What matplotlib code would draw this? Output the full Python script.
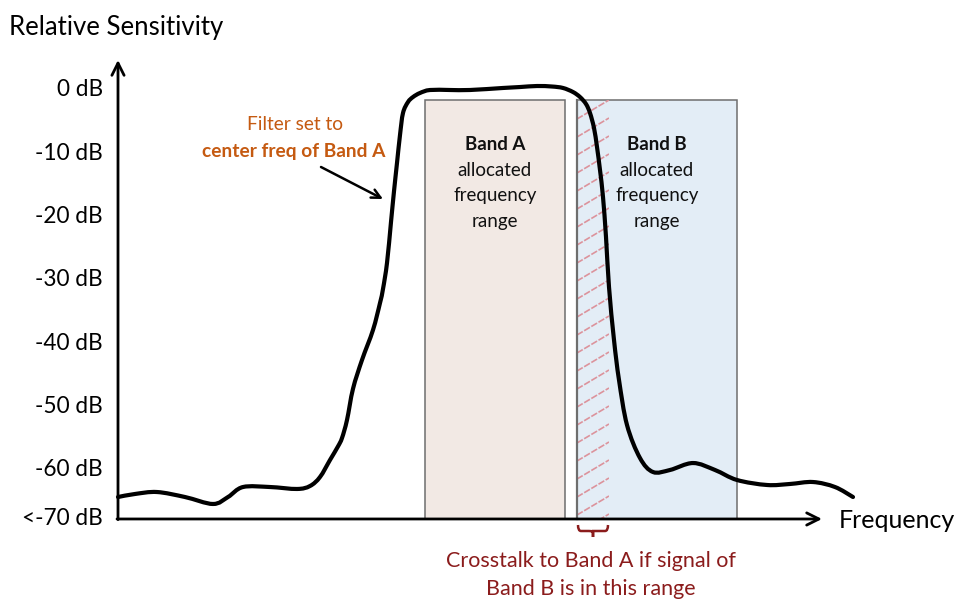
import matplotlib
matplotlib.use("Agg")
import matplotlib.pyplot as plt
import numpy as np
from matplotlib.patches import Rectangle, PathPatch
from matplotlib.path import Path

plt.rcParams['font.family'] = ['Lato', 'DejaVu Sans']

# ---------------- data ----------------
freq = [118, 135, 157, 185, 213, 228, 243, 270, 297, 310, 320, 330, 338, 342, 347,
        353, 362, 373, 380, 383, 387, 391, 394, 397, 400, 403, 408, 413, 420, 430,
        450, 470, 503, 520, 537, 552, 563, 573, 580, 586, 590, 594, 597, 600, 603,
        606, 609, 614, 619, 627, 640, 653, 670, 693, 715, 737, 767, 790, 813, 835, 853]
sens_db = [-64.30, -63.82, -63.51, -64.30, -65.40, -64.30, -62.72, -62.72, -63.03, -62.56,
           -61.14, -58.45, -56.30, -54.98, -52.13, -47.20, -42.65, -37.91, -33.65, -31.43,
           -27.33, -20.85, -16.00, -11.53, -7.11, -3.63, -1.90, -1.11, -0.47, 0.00,
           0.00, 0.00, 0.32, 0.47, 0.63, 0.55, 0.32, -0.32, -1.11, -2.21, -3.63, -6.00,
           -9.00, -12.64, -16.90, -23.22, -31.12, -39.49, -45.81, -52.92, -58.14, -60.35,
           -60.03, -58.93, -60.03, -61.61, -62.40, -62.24, -61.93, -62.72, -64.30]

ytick_vals = [0, -10, -20, -30, -40, -50, -60, -67.77]
ytick_labels = ["0 dB", "-10 dB", "-20 dB", "-30 dB", "-40 dB", "-50 dB", "-60 dB", "<-70 dB"]

band_names = ["Band A", "Band B"]
band_start = [425, 577]
band_end = [565, 737]
band_top_db = -1.58
crosstalk_range = [577, 609]
axis_floor_db = -67.77

# ---------------- figure ----------------
W, H = 961, 601
fig = plt.figure(figsize=(W / 100, H / 100), dpi=100)
ax = fig.add_axes([0, 0, 1, 1])
ax.set_xlim(0, W)
# pixel y -> dB mapping: y_px = 90 - 6.33*dB
ax.set_ylim((90 - H) / 6.33, 90 / 6.33)
ax.axis('off')

def py(ypx):
    return (90 - ypx) / 6.33

band_colors = ['#F2E9E4', '#E3EDF6']
for name, x0, x1, c in zip(band_names, band_start, band_end, band_colors):
    ax.add_patch(Rectangle((x0, axis_floor_db), x1 - x0, band_top_db - axis_floor_db,
                           facecolor=c, edgecolor='#6E6E6E', lw=1.1, zorder=1))

# crosstalk hatch (shallow diagonal lines)
hx0, hx1 = crosstalk_range
clip = Rectangle((hx0, axis_floor_db), hx1 - hx0, band_top_db - axis_floor_db,
                 facecolor='none', edgecolor='none')
ax.add_patch(clip)
for y0 in np.arange(100, 560, 18):
    ln, = ax.plot([hx0, hx1], [py(y0 + 19), py(y0)], color='#DC939C', lw=1.2,
                  dashes=(4, 1), zorder=2)
    ln.set_clip_path(clip)
ax.plot([hx0, hx0], [axis_floor_db, band_top_db], color='#6E6E6E', lw=1.6, zorder=2)

# band labels
for name, x0, x1 in zip(band_names, band_start, band_end):
    xc = (x0 + x1) / 2
    ax.text(xc, py(145), name, ha='center', va='center', fontsize=13.5, fontweight='bold', color='#111111', zorder=3)
    ax.text(xc, py(170), "allocated", ha='center', va='center', fontsize=13.5, color='#111111', zorder=3)
    ax.text(xc, py(196), "frequency", ha='center', va='center', fontsize=13.5, color='#111111', zorder=3)
    ax.text(xc, py(221), "range", ha='center', va='center', fontsize=13.5, color='#111111', zorder=3)

# filter curve, drawn as a smooth Catmull-Rom path through the read points
def smooth_path(xs, ys):
    P = np.column_stack([xs, ys]).astype(float)
    Pext = np.vstack([P[0], P, P[-1]])
    verts = [tuple(P[0])]
    codes = [Path.MOVETO]
    for i in range(1, len(Pext) - 2):
        p0, p1, p2, p3 = Pext[i - 1], Pext[i], Pext[i + 1], Pext[i + 2]
        c1 = p1 + (p2 - p0) / 6.0
        c2 = p2 - (p3 - p1) / 6.0
        verts += [tuple(c1), tuple(c2), tuple(p2)]
        codes += [Path.CURVE4] * 3
    return Path(verts, codes)

ax.add_patch(PathPatch(smooth_path(freq, sens_db), facecolor='none', edgecolor='black',
                       lw=3.0, joinstyle='round', capstyle='round', zorder=4))

# axes with arrows
ax.annotate('', xy=(118, py(60)), xytext=(118, axis_floor_db - 0.1),
            arrowprops=dict(arrowstyle='->', lw=2.0, color='black', mutation_scale=22, shrinkA=0, shrinkB=0), zorder=5)
ax.annotate('', xy=(822, axis_floor_db), xytext=(117, axis_floor_db),
            arrowprops=dict(arrowstyle='->', lw=2.0, color='black', mutation_scale=22, shrinkA=0, shrinkB=0), zorder=5)

for v, lab in zip(ytick_vals, ytick_labels):
    ax.text(103, v, lab, ha='right', va='center', fontsize=16.3, color='black')

ax.text(9, py(27), "Relative Sensitivity", ha='left', va='center', fontsize=18.5, color='black')
ax.text(839, py(521), "Frequency", ha='left', va='center', fontsize=18, color='black')

# annotation
orange = '#C55A11'
ax.text(295, py(125), "Filter set to", ha='center', va='center', fontsize=13.8, color=orange)
ax.text(294, py(151), "center freq of Band A", ha='center', va='center', fontsize=13.8, fontweight='bold', color=orange)
ax.annotate('', xy=(383, py(199)), xytext=(321, py(167)),
            arrowprops=dict(arrowstyle='->', lw=1.8, color='black', mutation_scale=16, shrinkA=0, shrinkB=0))

# brace under crosstalk region
dark_red = '#8B1C1C'
bx0, bx1 = crosstalk_range
bm = (bx0 + bx1) / 2
verts = [(bx0 + 1, py(525)), (bx0 + 1, py(531)), (bx0 + 4, py(531)), (bm - 4, py(531)),
         (bm, py(531)), (bm, py(533)), (bm, py(537)),
         (bm, py(533)), (bm, py(531)), (bm + 4, py(531)),
         (bx1 - 4, py(531)), (bx1 - 1, py(531)), (bx1 - 1, py(525))]
codes = [Path.MOVETO, Path.CURVE3, Path.CURVE3, Path.LINETO,
         Path.CURVE3, Path.CURVE3, Path.LINETO,
         Path.CURVE3, Path.CURVE3, Path.LINETO,
         Path.LINETO, Path.CURVE3, Path.CURVE3]
ax.add_patch(PathPatch(Path(verts, codes), facecolor='none', edgecolor=dark_red, lw=1.8))

ax.text(591, py(561), "Crosstalk to Band A if signal of", ha='center', va='center', fontsize=15.5, color=dark_red)
ax.text(591, py(589), "Band B is in this range", ha='center', va='center', fontsize=15.5, color=dark_red)

fig.savefig("out.png", dpi=100)
